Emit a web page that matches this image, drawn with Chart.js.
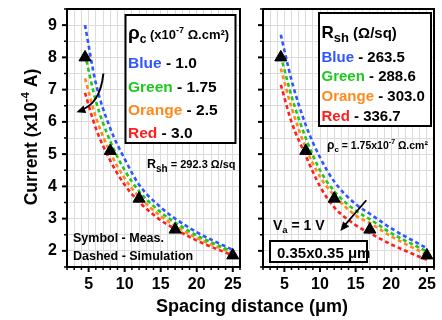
<!DOCTYPE html>
<html><head><meta charset="utf-8">
<script src="https://cdn.jsdelivr.net/npm/chart.js@4.4.1/dist/chart.umd.min.js"></script>
<style>
html,body{margin:0;padding:0;background:#fff;}
#wrap{position:relative;width:442px;height:320px;background:#fff;}
canvas{position:absolute;left:0;top:0;}
</style></head><body>
<div id="wrap"><canvas id="cL" width="442" height="320"></canvas><canvas id="cR" width="442" height="320"></canvas></div>
<script>
// ---- data (current in 1e-4 A vs spacing in um) ----
const spacing = [4.5, 6, 8, 10, 12, 15, 17, 20, 25];
const measSpacing = [4.5, 8, 12, 17, 25];
const measCurrent = [8.0, 5.1, 3.62, 2.66, 1.86];
// left panel: contact resistivity series
const rhoBlue   = [9.0, 7.2, 5.8, 4.85, 4.05, 3.35, 3.0, 2.58, 2.03];
const rhoGreen  = [8.1, 6.65, 5.4, 4.5, 3.85, 3.2, 2.88, 2.48, 1.97];
const rhoOrange = [7.35, 6.15, 5.05, 4.25, 3.68, 3.08, 2.78, 2.4, 1.92];
const rhoRed    = [6.9, 5.8, 4.8, 4.05, 3.52, 2.95, 2.68, 2.32, 1.86];
// right panel: sheet resistance series
const rshBlue   = [8.7, 7.3, 5.9, 4.9, 4.15, 3.45, 3.15, 2.7, 2.08];
const rshGreen  = [8.05, 6.8, 5.5, 4.5, 3.85, 3.25, 2.98, 2.55, 1.98];
const rshOrange = [7.65, 6.45, 5.2, 4.3, 3.72, 3.1, 2.86, 2.45, 1.88];
const rshRed    = [7.15, 6.0, 4.95, 4.0, 3.35, 2.8, 2.55, 2.2, 1.72];
const xTickLabels = [5, 10, 15, 20, 25];
const yTickLabels = [2, 3, 4, 5, 6, 7, 8, 9];

const FONT = '"Liberation Sans", Arial, Helvetica, sans-serif';
const BLUE = '#2f55ff', GREEN = '#1ec81e', ORANGE = '#ff8a1c', RED = '#ff1e1e';

function pts(xs, ys){ return xs.map((x,i)=>({x:x, y:ys[i]})); }
function curve(ys, color){
  return {data: pts(spacing, ys), borderColor: color, borderWidth: 2.6, borderDash:[4,3],
    pointRadius:0, fill:false, cubicInterpolationMode:'monotone'};
}
function rich(ctx, x, y, parts, align){
  let w = 0;
  for (const p of parts){ ctx.font = 'bold ' + p[1] + 'px ' + FONT; w += ctx.measureText(p[0]).width; }
  let cx = align === 'center' ? x - w/2 : x;
  ctx.textAlign = 'left'; ctx.textBaseline = 'alphabetic';
  for (const p of parts){
    ctx.font = 'bold ' + p[1] + 'px ' + FONT;
    ctx.fillStyle = p[3] || '#000';
    ctx.fillText(p[0], cx, y + (p[2] || 0));
    cx += ctx.measureText(p[0]).width;
  }
}
function arrowHead(ctx, x1, y1, x2, y2){
  const ang = Math.atan2(y2 - y1, x2 - x1), L = 9, H = 4;
  ctx.beginPath();
  ctx.moveTo(x2, y2);
  ctx.lineTo(x2 - L*Math.cos(ang) + H*Math.sin(ang), y2 - L*Math.sin(ang) - H*Math.cos(ang));
  ctx.lineTo(x2 - L*Math.cos(ang) - H*Math.sin(ang), y2 - L*Math.sin(ang) + H*Math.cos(ang));
  ctx.closePath(); ctx.fill();
}
function box(ctx, x, y, w, h){
  ctx.fillStyle = '#fff'; ctx.fillRect(x, y, w, h);
  ctx.strokeStyle = '#000'; ctx.lineWidth = 2; ctx.strokeRect(x, y, w, h);
}

const framePlugin = { id:'frame', afterDraw(chart){
  const {ctx, chartArea:a, scales:{x, y}} = chart;
  ctx.save(); ctx.strokeStyle = '#000';
  for (let v = 1.5; v <= 9.5001; v += 0.5){
    const py = y.getPixelForValue(v); const major = Math.abs(v - Math.round(v)) < 1e-6;
    ctx.lineWidth = major ? 2 : 1.5;
    ctx.beginPath(); ctx.moveTo(a.left - (major ? 5 : 3), py); ctx.lineTo(a.left, py); ctx.stroke();
  }
  for (let v = 2; v <= 26; v++){
    const px = x.getPixelForValue(v); const major = v % 5 === 0;
    ctx.lineWidth = major ? 2 : 1.5;
    ctx.beginPath(); ctx.moveTo(px, a.bottom); ctx.lineTo(px, a.bottom + (major ? 5 : 3)); ctx.stroke();
  }
  ctx.lineWidth = 2; ctx.strokeRect(a.left, a.top, a.right - a.left, a.bottom - a.top);
  ctx.restore();
}};

const leftAnno = { id:'leftAnno', afterDraw(chart){
  const {ctx, scales:{x, y}} = chart;
  ctx.save();
  box(ctx, 125.5, 15, 110, 128);
  rich(ctx, 128, 39, [['ρ',19,0],['c',12,4],[' (x10',13,0],['-7',9,-6],[' Ω.cm²)',13,0]]);
  rich(ctx, 128, 68.3, [['Blue',15.5,0,BLUE],[' - 1.0',15.5,0]]);
  rich(ctx, 128, 91.6, [['Green',15.5,0,GREEN],[' - 1.75',15.5,0]]);
  rich(ctx, 128, 115, [['Orange',15.5,0,ORANGE],[' - 2.5',15.5,0]]);
  rich(ctx, 128, 138, [['Red',15.5,0,RED],[' - 3.0',15.5,0]]);
  rich(ctx, 147, 168, [['R',12.5,0],['sh',10,4],[' = 292.3 Ω/sq',11,0]]);
  rich(ctx, 73, 241.7, [['Symbol - Meas.',12.5,0]]);
  rich(ctx, 73, 260, [['Dashed - Simulation',12.5,0]]);
  // curved arrow
  const sx = x.getPixelForValue(7.05), sy = y.getPixelForValue(7.5);
  const cx = x.getPixelForValue(6.6), cy = y.getPixelForValue(6.55);
  const ex = x.getPixelForValue(3.3), ey = y.getPixelForValue(6.3);
  ctx.strokeStyle = '#000'; ctx.fillStyle = '#000'; ctx.lineWidth = 2;
  ctx.beginPath(); ctx.moveTo(sx, sy); ctx.quadraticCurveTo(cx, cy, ex + 4, ey - 2); ctx.stroke();
  arrowHead(ctx, cx, cy, ex, ey);
  // axis titles
  ctx.save(); ctx.translate(37, 137); ctx.rotate(-Math.PI/2);
  rich(ctx, 0, 0, [['Current (x10',17.5,0],['-4',11.5,-8],[' A)',17.5,0]], 'center');
  ctx.restore();
  rich(ctx, 252, 312, [['Spacing distance (μm)',18,0]], 'center');
  ctx.restore();
}};

const rightAnno = { id:'rightAnno', afterDraw(chart){
  const {ctx, scales:{x, y}} = chart;
  ctx.save();
  box(ctx, 319, 13, 112, 113);
  rich(ctx, 321.5, 38, [['R',17,0],['sh',13,4],[' (Ω/sq)',15,0]]);
  rich(ctx, 321.5, 61.7, [['Blue',15,0,BLUE],[' - 263.5',15,0]]);
  rich(ctx, 321.5, 81, [['Green',15,0,GREEN],[' - 288.6',15,0]]);
  rich(ctx, 321.5, 101, [['Orange',15,0,ORANGE],[' - 303.0',15,0]]);
  rich(ctx, 321.5, 121, [['Red',15,0,RED],[' - 336.7',15,0]]);
  rich(ctx, 327, 149, [['ρ',12,0],['c',8,3],[' = 1.75x10',10.5,0],['-7',7,-5],[' Ω.cm²',10.5,0]]);
  rich(ctx, 273, 230, [['V',14,0],['a',9.5,3],[' = 1 V',14,0]]);
  box(ctx, 270, 241, 97, 21);
  rich(ctx, 277, 257.5, [['0.35x0.35 μm',15,0]]);
  const sx = x.getPixelForValue(16.5), sy = y.getPixelForValue(3.57);
  const ex = x.getPixelForValue(12.85), ey = y.getPixelForValue(2.62);
  ctx.strokeStyle = '#000'; ctx.fillStyle = '#000'; ctx.lineWidth = 1.8;
  ctx.beginPath(); ctx.moveTo(sx, sy); ctx.lineTo(ex + 3, ey - 4); ctx.stroke();
  arrowHead(ctx, sx, sy, ex, ey);
  ctx.restore();
}};

function makeChart(id, curves, isLeft){
  const tickFont = {family: FONT, size: 16, weight: 'bold'};
  return new Chart(document.getElementById(id), {
    type: 'line',
    data: { datasets: [
      {data: pts(measSpacing, measCurrent), showLine:false, pointStyle:'triangle', pointRadius:7,
       pointBackgroundColor:'#000', pointBorderColor:'#000', pointBorderWidth:1},
      curve(curves[0], BLUE), curve(curves[1], GREEN), curve(curves[2], ORANGE), curve(curves[3], RED)
    ]},
    options: {
      responsive:false, animation:false, devicePixelRatio:1, events:[],
      layout: {padding: isLeft ? {left:0, right:202, top:9, bottom:0} : {left:253, right:5, top:9, bottom:0}},
      plugins: {legend:{display:false}, tooltip:{enabled:false}},
      scales: {
        x: {type:'linear', min:2, max:26,
            afterFit: s => { s.height = 53; s.paddingLeft = 0; s.paddingRight = 0; },
            grid:{color:'#dcdcdc', lineWidth:1, drawTicks:false}, border:{display:false},
            ticks:{stepSize:1, autoSkip:false, maxRotation:0, padding:8, color:'#000', font:tickFont,
                   callback: v => xTickLabels.includes(v) ? String(v) : ''}},
        y: {type:'linear', min:1.5, max:9.5,
            afterFit: s => { s.width = isLeft ? 67 : 10; s.paddingTop = 0; s.paddingBottom = 0; },
            grid:{color:'#dcdcdc', lineWidth:1, drawTicks:false}, border:{display:false},
            ticks:{stepSize:0.5, autoSkip:false, display:isLeft, padding:10, color:'#000', font:tickFont,
                   callback: v => yTickLabels.includes(v) ? String(v) : ''}}
      }
    },
    plugins: [isLeft ? leftAnno : rightAnno, framePlugin]
  });
}
makeChart('cL', [rhoBlue, rhoGreen, rhoOrange, rhoRed], true);
makeChart('cR', [rshBlue, rshGreen, rshOrange, rshRed], false);
</script>
</body></html>
